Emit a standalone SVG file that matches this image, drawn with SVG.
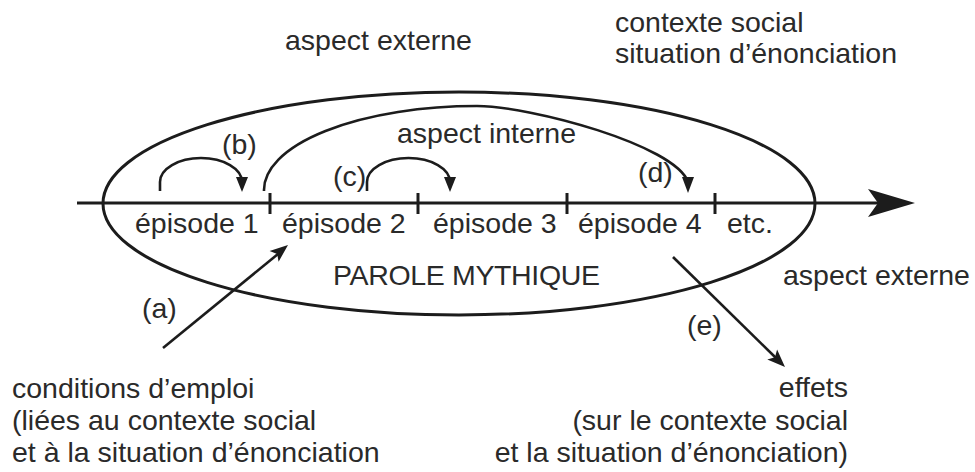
<svg xmlns="http://www.w3.org/2000/svg" width="975" height="472" viewBox="0 0 975 472">
<style>
  text { font-family: "Liberation Sans", Arial, sans-serif; font-size: 28.5px; fill: #2a2a2a; }
  .end { text-anchor: end; }
  .ln { fill: none; stroke: #1c1c1c; stroke-width: 3; }
  .ln2 { fill: none; stroke: #1c1c1c; stroke-width: 2.6; }
  .ah { fill: #1c1c1c; stroke: none; }
</style>
<rect width="975" height="472" fill="#ffffff"/>

<g id="parole-mythique">
  <ellipse class="ln" cx="459" cy="203.5" rx="356" ry="111.5"/>
  <text x="333" y="285" textLength="267" lengthAdjust="spacing">PAROLE MYTHIQUE</text>
</g>

<g id="axis">
  <line class="ln" x1="77" y1="203" x2="882" y2="203"/>
  <polygon class="ah" points="915,203 868,189 878,203 868,217"/>
  <line class="ln" x1="270" y1="193" x2="270" y2="214"/>
  <line class="ln" x1="418" y1="193" x2="418" y2="214"/>
  <line class="ln" x1="567" y1="193" x2="567" y2="214"/>
  <line class="ln" x1="715" y1="193" x2="715" y2="214"/>
</g>

<g id="episode-1"><text x="135" y="233">épisode 1</text></g>
<g id="episode-2"><text x="282" y="233">épisode 2</text></g>
<g id="episode-3"><text x="433" y="233">épisode 3</text></g>
<g id="episode-4"><text x="578" y="233">épisode 4</text></g>
<g id="etc"><text x="727" y="233">etc.</text></g>

<g id="aspect-externe-top"><text x="285" y="50">aspect externe</text></g>
<g id="contexte-social">
  <text x="615" y="32">contexte social</text>
  <text x="615" y="63">situation d’énonciation</text>
</g>
<g id="aspect-interne"><text x="397" y="143">aspect interne</text></g>
<g id="aspect-externe-right"><text x="783" y="285">aspect externe</text></g>

<g id="conditions">
  <text x="12" y="398">conditions d’emploi</text>
  <text x="12" y="430">(liées au contexte social</text>
  <text x="12" y="462">et à la situation d’énonciation</text>
</g>
<g id="effets">
  <text class="end" x="848" y="397">effets</text>
  <text class="end" x="848" y="430">(sur le contexte social</text>
  <text class="end" x="848" y="462">et la situation d’énonciation)</text>
</g>

<g id="connectors">
  <!-- (b) -->
  <path class="ln2" d="M160,191 L160,182 A41,24 0 0 1 242,182 L242,184"/>
  <polygon class="ah" points="242,192 236,177 248,177"/>
  <text x="222" y="154">(b)</text>
  <!-- (c) -->
  <path class="ln2" d="M367,191 L367,182 A41.5,24 0 0 1 450,182 L450,184"/>
  <polygon class="ah" points="450,192 444,177 456,177"/>
  <text x="333" y="186">(c)</text>
  <!-- (d) -->
  <path class="ln2" d="M264,191 A213,84 0 0 1 477,106 C530,106 675,145 688,182"/>
  <polygon class="ah" points="688,193 682,177 694,177"/>
  <text x="638" y="182">(d)</text>
  <!-- (a) -->
  <line class="ln2" x1="163" y1="348" x2="278" y2="254"/>
  <polygon class="ah" points="288,245 278.6,261.8 277.2,253.9 269.6,251"/>
  <text x="142" y="318">(a)</text>
  <!-- (e) -->
  <line class="ln2" x1="673" y1="257" x2="776" y2="358"/>
  <polygon class="ah" points="785,367 767.3,359.4 775,357.2 777.1,349.4"/>
  <text x="687" y="335">(e)</text>
</g>
</svg>
